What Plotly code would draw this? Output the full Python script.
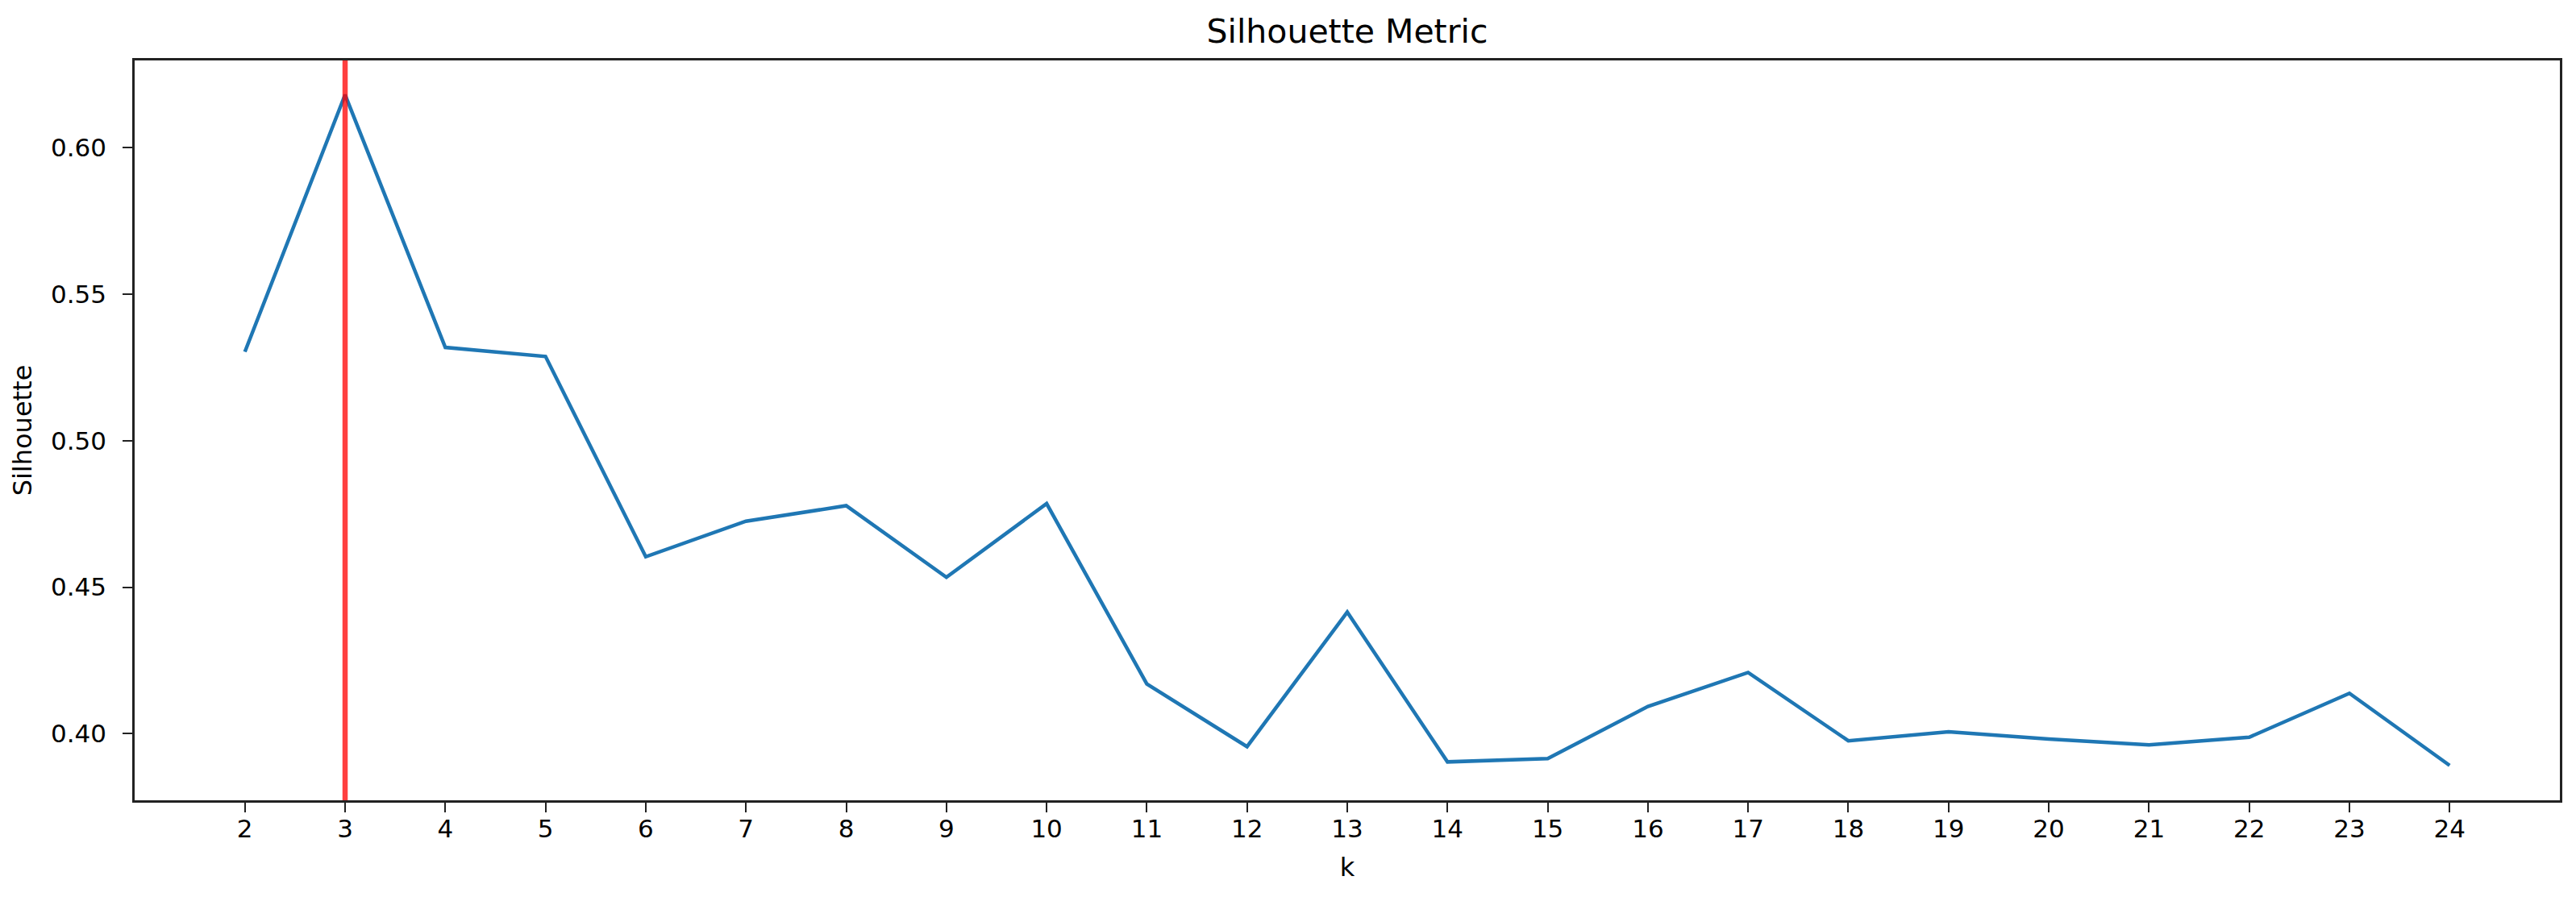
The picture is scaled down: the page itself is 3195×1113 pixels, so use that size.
import plotly.graph_objects as go

# Data
k_values = list(range(2, 25))
silhouette = [0.5303, 0.6180, 0.5318, 0.5287, 0.4604, 0.4725, 0.4778, 0.4534,
              0.4785, 0.4170, 0.3956, 0.4415, 0.3904, 0.3915, 0.4093, 0.4209,
              0.3976, 0.4007, 0.3982, 0.3962, 0.3988, 0.4138, 0.3892]
best_k = 3
x_ticks = list(range(2, 25))
y_ticks = [0.40, 0.45, 0.50, 0.55, 0.60]

FONT = "DejaVu Sans"

fig = go.Figure()
fig.add_trace(go.Scatter(
    x=k_values, y=silhouette, mode="lines",
    line=dict(color="#1f77b4", width=4.5),
    showlegend=False, hoverinfo="x+y",
))

fig.add_shape(
    type="line", xref="x", yref="y domain",
    x0=best_k, x1=best_k, y0=0, y1=1,
    line=dict(color="red", width=6.5), opacity=0.75, layer="above",
)

axis_common = dict(
    showgrid=False, zeroline=False,
    showline=True, linecolor="#222222", linewidth=2.7, mirror=True,
    ticks="outside", ticklen=12, tickwidth=2.4, tickcolor="#222222",
    tickfont=dict(family=FONT, size=31, color="black"),
)

# page body has an 8px default margin, so the figure is sized to fit inside it
W, H = 3187, 1105

fig.update_layout(
    width=W, height=H,
    margin=dict(l=159, r=20, t=67, b=120),
    paper_bgcolor="white", plot_bgcolor="white",
    title=dict(text="Silhouette Metric", x=0.5, xref="paper", xanchor="center",
               y=1 - 31 / H, yanchor="middle", yref="container",
               font=dict(family=FONT, size=41, color="black")),
    xaxis=dict(range=[0.9, 25.1], tickmode="array", tickvals=x_ticks,
               ticktext=[str(v) for v in x_ticks],
               title=dict(text="k", font=dict(family=FONT, size=32, color="black"), standoff=20),
               ticklabelstandoff=-6,
               **axis_common),
    yaxis=dict(range=[0.3773, 0.6297], tickmode="array", tickvals=y_ticks,
               ticktext=[f"{v:.2f}" for v in y_ticks],
               title=dict(text="Silhouette", font=dict(family=FONT, size=32, color="black"), standoff=14),
               ticklabelstandoff=14,
               **axis_common),
)

fig.write_html("out.html")
